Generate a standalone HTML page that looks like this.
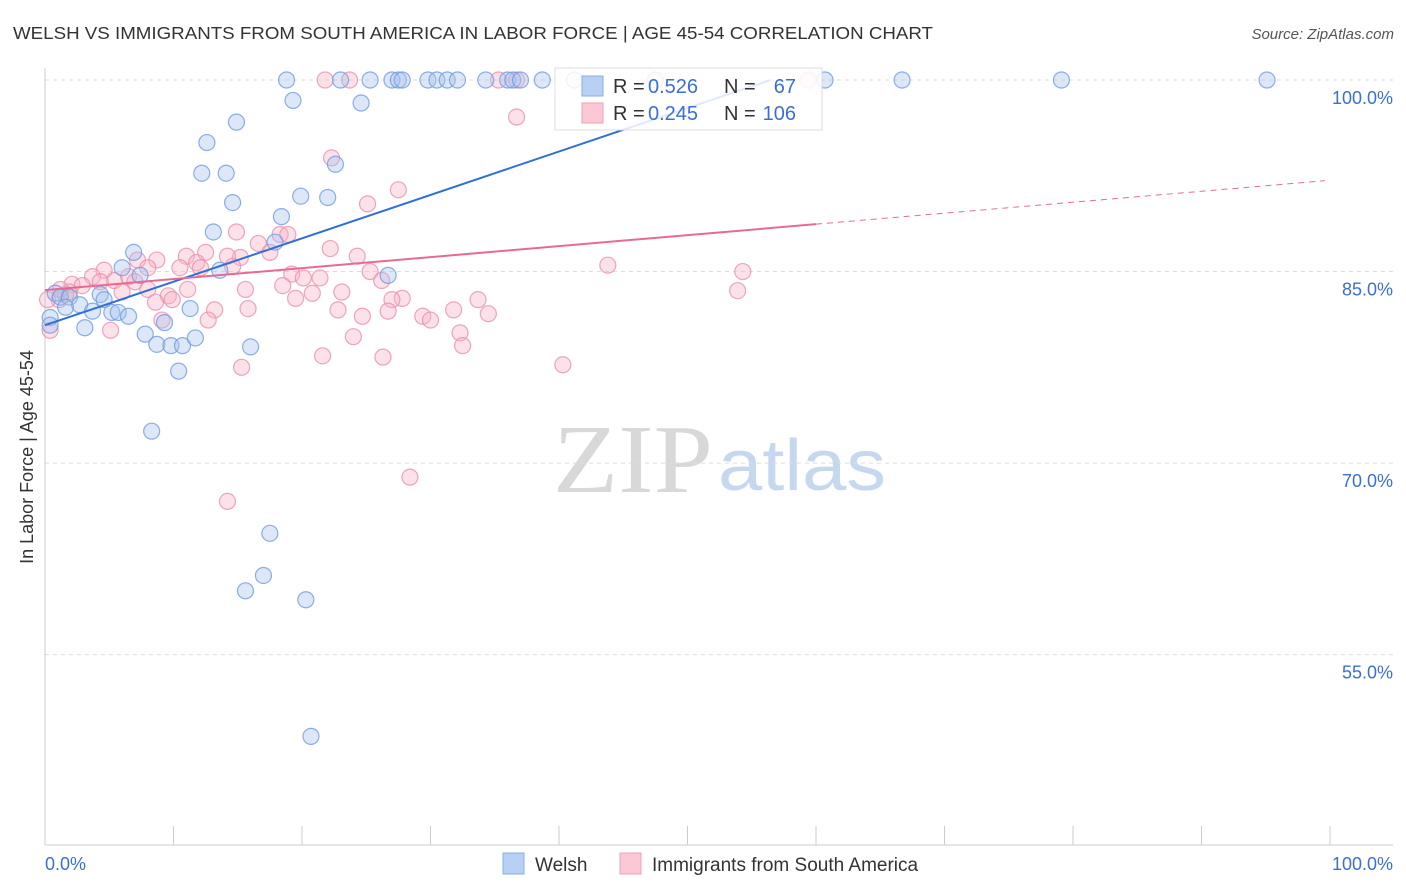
<!DOCTYPE html>
<html><head><meta charset="utf-8"><style>
body{margin:0;background:#fff;font-family:"Liberation Sans",sans-serif}
svg{display:block}
</style></head><body>
<svg id="c" width="1406" height="892" xmlns="http://www.w3.org/2000/svg">
<text x="13" y="39" font-size="17.5" fill="#333" textLength="920" lengthAdjust="spacingAndGlyphs">WELSH VS IMMIGRANTS FROM SOUTH AMERICA IN LABOR FORCE | AGE 45-54 CORRELATION CHART</text>
<text x="1394" y="39" font-size="15" fill="#555" font-style="italic" text-anchor="end">Source: ZipAtlas.com</text>
<text transform="translate(33,457) rotate(-90)" font-size="18" fill="#333" text-anchor="middle">In Labor Force | Age 45-54</text>
<g>
<text x="553" y="492" font-size="98" font-family="Liberation Serif,serif" fill="#d8d8d8" textLength="160" lengthAdjust="spacingAndGlyphs">ZIP</text>
<text x="718" y="490" font-size="72" fill="#c6d8f0" textLength="168" lengthAdjust="spacingAndGlyphs">atlas</text>
</g>
<g id="grid"></g><g id="axes"></g><g id="pts"></g><g id="trend"></g>
<g>
<rect x="555" y="68" width="267" height="62" fill="#fff" fill-opacity="0.85" stroke="#ddd"/>
<rect x="582" y="76" width="21" height="20" fill="#b8d0f3" stroke="#86aee6"/>
<rect x="582" y="103" width="21" height="20" fill="#fbc8d6" stroke="#eda0b8"/>
<text x="613" y="93" font-size="20" fill="#333">R =</text>
<text x="648" y="93" font-size="20" fill="#3a6fd8">0.526</text>
<text x="724" y="93" font-size="20" fill="#333">N =</text>
<text x="796" y="93" font-size="20" fill="#3a6fd8" text-anchor="end">67</text>
<text x="613" y="120" font-size="20" fill="#333">R =</text>
<text x="648" y="120" font-size="20" fill="#3a6fd8">0.245</text>
<text x="724" y="120" font-size="20" fill="#333">N =</text>
<text x="796" y="120" font-size="20" fill="#3a6fd8" text-anchor="end">106</text>
</g>
<g>
<rect x="503" y="853" width="21" height="21" fill="#b8d0f3" stroke="#86aee6"/>
<text x="535" y="871" font-size="19" fill="#333">Welsh</text>
<rect x="620" y="853" width="21" height="21" fill="#fbc8d6" stroke="#eda0b8"/>
<text x="652" y="871" font-size="19" fill="#333">Immigrants from South America</text>
</g>
<text x="45" y="870" font-size="18" fill="#3a6fd8">0.0%</text>
<text x="1393" y="870" font-size="18" fill="#3a6fd8" text-anchor="end">100.0%</text>
</svg>
<script>
const yTicks=[100,85,70,55];
const yTickLabels=["100.0%","85.0%","70.0%","55.0%"];
const welshX=[18.8,23.0,25.3,27.0,27.5,27.8,29.8,30.5,31.3,32.1,34.3,36.0,36.4,37.0,38.7,41.2,47.5,60.7,66.7,79.1,95.1,19.3,24.6,14.9,12.6,22.6,12.2,14.1,19.9,22.0,14.6,18.4,13.1,17.9,6.9,6.0,13.6,26.7,7.4,0.8,1.2,1.9,4.3,4.6,1.6,2.7,3.7,5.2,5.7,6.5,9.3,11.3,0.4,3.1,7.8,8.7,9.8,10.7,11.7,16.0,10.4,8.3,17.5,17.0,15.6,20.3,20.7,0.4];
const welshY=[100,100,100,100,100,100,100,100,100,100,100,100,100,100,100,100,100,100,100,100,100,98.4,98.2,96.7,95.1,93.4,92.7,92.7,90.9,90.8,90.4,89.3,88.1,87.3,86.5,85.3,85.1,84.7,84.7,83.3,83.0,83.0,83.2,82.8,82.2,82.4,81.9,81.8,81.8,81.5,81.0,82.1,81.4,80.6,80.1,79.3,79.2,79.2,79.8,79.1,77.2,72.5,64.5,61.2,60.0,59.3,48.6,80.8];
const immX=[21.8,23.7,35.3,36.7,59.4,36.7,22.3,27.5,25.1,14.9,18.3,18.9,16.6,17.5,22.2,24.3,15.2,7.2,8.7,11.0,12.5,14.2,11.8,10.5,12.1,14.6,8.0,4.6,3.7,6.5,5.4,19.2,20.1,21.4,25.3,26.2,43.8,54.3,2.1,2.9,4.3,7.0,6.0,8.0,9.6,9.9,11.1,15.6,18.5,20.8,23.1,19.5,27.8,27.0,33.7,53.9,1.9,1.1,1.6,8.6,13.2,15.8,22.8,24.7,26.7,29.4,30.0,31.8,34.5,9.1,12.7,5.1,32.3,32.5,24.0,21.6,26.3,40.3,15.3,28.4,14.2,0.4,0.2,1.2];
const immY=[100,100,100,100,100,97.1,93.9,91.4,90.3,88.1,87.9,87.9,87.2,86.5,86.8,86.2,86.1,85.9,85.9,86.2,86.5,86.2,85.7,85.3,85.3,85.4,85.3,85.1,84.6,84.6,84.3,84.8,84.5,84.5,85.0,84.3,85.5,85.0,84.0,83.9,84.2,84.2,83.4,83.6,83.1,82.8,83.6,83.6,83.9,83.3,83.4,82.9,82.9,82.8,82.8,83.5,83.4,82.8,83.2,82.6,82.0,82.1,82.0,81.5,81.9,81.5,81.2,82.0,81.7,81.2,81.2,80.4,80.2,79.2,79.9,78.4,78.3,77.7,77.5,68.9,67.0,80.4,82.8,83.6];
const welshTrend=[80.8,0.34];   // intercept, slope
const immTrend=[83.55,0.086];
const NS="http://www.w3.org/2000/svg";
const X0=45,X1=1330,Y100=80,PXPER=12.77;
const sx=v=>X0+(X1-X0)*v/100;
const sy=v=>Y100+(100-v)*PXPER;
function mk(tag,attrs,parent){const e=document.createElementNS(NS,tag);for(const k in attrs)e.setAttribute(k,attrs[k]);parent.appendChild(e);return e;}
const grid=document.getElementById('grid'),axes=document.getElementById('axes'),pts=document.getElementById('pts'),trend=document.getElementById('trend');
yTicks.forEach((t,i)=>{
 const l=mk('line',{x1:45,x2:1393,y1:sy(t),y2:sy(t),stroke:'#ddd','stroke-dasharray':'4,4'},grid);
 
 
 const tx=mk('text',{x:1393,y:sy(t)+24,'font-size':18,fill:'#3a6fd8','text-anchor':'end'},grid);
 tx.textContent=yTickLabels[i];
 
 
});
const ya=mk('line',{x1:45,x2:45,y1:68,y2:845,stroke:'#ccc'},axes);


const xa=mk('line',{x1:45,x2:1393,y1:845,y2:845,stroke:'#ccc'},axes);


for(let i=0;i<=10;i++){
 const t=mk('line',{x1:sx(i*10),x2:sx(i*10),y1:826,y2:845,stroke:'#ccc'},axes);
 
 
}
function dots(xs,ys,fill,stroke,name){
 xs.forEach((x,i)=>{
  const c=mk('circle',{cx:sx(x),cy:sy(ys[i]),r:8,fill:fill,'fill-opacity':0.4,stroke:stroke,'stroke-width':1.2,'stroke-opacity':0.8},pts);
  
  
 });
}
dots(immX,immY,'#f7b3c8','#e990ad','immigrants-point');
dots(welshX,welshY,'#a7c3ee','#6f9be0','welsh-point');
const wEnd=(100-welshTrend[0])/welshTrend[1];
const wl=mk('line',{x1:sx(0),y1:sy(welshTrend[0]),x2:sx(wEnd),y2:sy(100),stroke:'#2f6fd6','stroke-width':2},trend);


const pl=mk('line',{x1:sx(0),y1:sy(immTrend[0]),x2:sx(60),y2:sy(immTrend[0]+immTrend[1]*60),stroke:'#e86a94','stroke-width':2},trend);


const pd=mk('line',{x1:sx(60),y1:sy(immTrend[0]+immTrend[1]*60),x2:sx(99.6),y2:sy(immTrend[0]+immTrend[1]*99.6),stroke:'#e86a94','stroke-width':1,'stroke-dasharray':'6,5'},trend);


</script>
</body></html>
